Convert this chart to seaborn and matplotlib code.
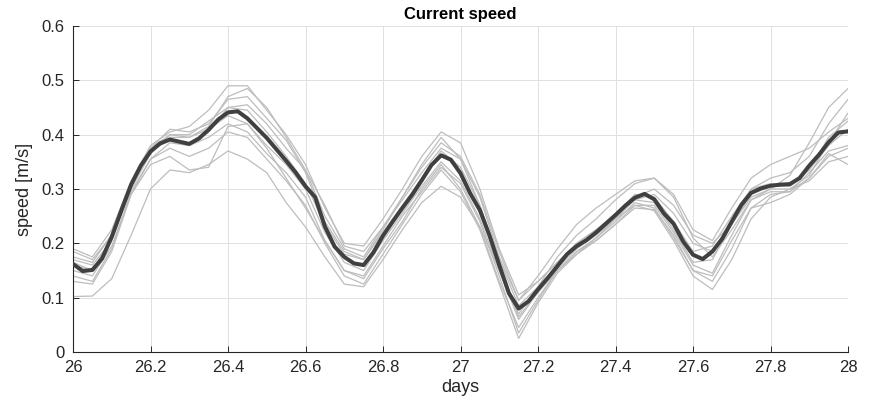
import numpy as np
import pandas as pd
import matplotlib
matplotlib.use("Agg")
import matplotlib.pyplot as plt
import seaborn as sns

# ---------------- data ----------------
days_fine = [26.000 + 0.025 * i for i in range(81)]
mean_speed = [0.162, 0.149, 0.151, 0.172, 0.212, 0.261, 0.308, 0.343, 0.369, 0.384,
              0.391, 0.387, 0.383, 0.393, 0.409, 0.428, 0.441, 0.443, 0.430, 0.412,
              0.394, 0.373, 0.352, 0.330, 0.305, 0.285, 0.231, 0.194, 0.175, 0.163,
              0.160, 0.183, 0.214, 0.240, 0.265, 0.289, 0.316, 0.344, 0.362, 0.354,
              0.329, 0.292, 0.261, 0.214, 0.160, 0.108, 0.080, 0.093, 0.115, 0.136,
              0.158, 0.180, 0.195, 0.206, 0.220, 0.236, 0.252, 0.269, 0.284, 0.291,
              0.281, 0.255, 0.236, 0.203, 0.179, 0.171, 0.185, 0.208, 0.240, 0.271,
              0.293, 0.301, 0.306, 0.308, 0.309, 0.320, 0.343, 0.363, 0.386, 0.404,
              0.406]

days = [26.00 + 0.05 * i for i in range(41)]
m1 = [0.102, 0.103, 0.135, 0.215, 0.300, 0.335, 0.330, 0.345, 0.370, 0.355, 0.330, 0.275, 0.230, 0.175, 0.125, 0.120, 0.170, 0.225, 0.275, 0.305, 0.285, 0.230, 0.130, 0.045, 0.100, 0.150, 0.185, 0.205, 0.235, 0.265, 0.262, 0.215, 0.150, 0.140, 0.205, 0.265, 0.275, 0.290, 0.320, 0.360, 0.375]
m2 = [0.190, 0.175, 0.225, 0.315, 0.380, 0.405, 0.415, 0.445, 0.490, 0.490, 0.445, 0.400, 0.345, 0.265, 0.200, 0.195, 0.245, 0.300, 0.360, 0.405, 0.385, 0.300, 0.190, 0.105, 0.130, 0.165, 0.200, 0.225, 0.250, 0.285, 0.300, 0.270, 0.215, 0.200, 0.235, 0.285, 0.300, 0.325, 0.385, 0.450, 0.485]
m3 = [0.185, 0.170, 0.215, 0.310, 0.375, 0.410, 0.405, 0.420, 0.465, 0.470, 0.430, 0.390, 0.330, 0.240, 0.185, 0.170, 0.225, 0.285, 0.345, 0.395, 0.355, 0.270, 0.160, 0.070, 0.120, 0.175, 0.215, 0.245, 0.280, 0.310, 0.320, 0.285, 0.210, 0.175, 0.225, 0.280, 0.300, 0.300, 0.325, 0.385, 0.440]
m4 = [0.170, 0.160, 0.205, 0.300, 0.365, 0.400, 0.400, 0.425, 0.450, 0.455, 0.420, 0.375, 0.335, 0.270, 0.195, 0.185, 0.230, 0.280, 0.330, 0.375, 0.355, 0.285, 0.175, 0.095, 0.140, 0.190, 0.235, 0.265, 0.290, 0.315, 0.320, 0.290, 0.225, 0.205, 0.265, 0.320, 0.345, 0.360, 0.375, 0.405, 0.430]
m5 = [0.150, 0.140, 0.195, 0.290, 0.345, 0.360, 0.335, 0.340, 0.415, 0.420, 0.375, 0.320, 0.265, 0.205, 0.150, 0.140, 0.195, 0.250, 0.295, 0.340, 0.310, 0.240, 0.140, 0.035, 0.095, 0.150, 0.180, 0.210, 0.240, 0.275, 0.265, 0.210, 0.150, 0.130, 0.190, 0.265, 0.290, 0.295, 0.330, 0.370, 0.380]
m6 = [0.165, 0.150, 0.210, 0.305, 0.375, 0.400, 0.395, 0.410, 0.435, 0.420, 0.380, 0.345, 0.300, 0.220, 0.165, 0.150, 0.205, 0.255, 0.305, 0.350, 0.315, 0.245, 0.150, 0.060, 0.110, 0.150, 0.185, 0.210, 0.245, 0.280, 0.275, 0.225, 0.165, 0.170, 0.235, 0.290, 0.305, 0.305, 0.335, 0.380, 0.410]
m7 = [0.140, 0.130, 0.190, 0.295, 0.355, 0.385, 0.380, 0.395, 0.420, 0.405, 0.365, 0.330, 0.285, 0.205, 0.150, 0.135, 0.190, 0.240, 0.300, 0.345, 0.300, 0.230, 0.150, 0.065, 0.110, 0.155, 0.190, 0.215, 0.245, 0.270, 0.260, 0.205, 0.140, 0.115, 0.170, 0.245, 0.285, 0.300, 0.315, 0.350, 0.360]
m8 = [0.175, 0.165, 0.215, 0.310, 0.370, 0.390, 0.380, 0.405, 0.450, 0.445, 0.405, 0.360, 0.310, 0.235, 0.180, 0.170, 0.220, 0.270, 0.320, 0.370, 0.340, 0.270, 0.170, 0.085, 0.120, 0.160, 0.195, 0.220, 0.255, 0.290, 0.285, 0.240, 0.185, 0.195, 0.250, 0.300, 0.310, 0.305, 0.335, 0.395, 0.425]
m9 = [0.130, 0.125, 0.185, 0.290, 0.355, 0.375, 0.360, 0.375, 0.405, 0.395, 0.355, 0.315, 0.270, 0.200, 0.140, 0.125, 0.180, 0.235, 0.290, 0.335, 0.295, 0.225, 0.125, 0.025, 0.090, 0.145, 0.180, 0.205, 0.235, 0.270, 0.270, 0.220, 0.160, 0.145, 0.215, 0.280, 0.295, 0.295, 0.320, 0.365, 0.345]
m10 = [0.160, 0.150, 0.210, 0.305, 0.370, 0.395, 0.395, 0.415, 0.470, 0.485, 0.450, 0.395, 0.335, 0.250, 0.190, 0.175, 0.230, 0.285, 0.340, 0.385, 0.360, 0.290, 0.185, 0.095, 0.130, 0.165, 0.200, 0.225, 0.255, 0.280, 0.290, 0.255, 0.200, 0.185, 0.240, 0.300, 0.320, 0.330, 0.360, 0.420, 0.465]
members = {"m1": m1, "m2": m2, "m3": m3, "m4": m4, "m5": m5,
           "m6": m6, "m7": m7, "m8": m8, "m9": m9, "m10": m10}

x_ticks = [26, 26.2, 26.4, 26.6, 26.8, 27, 27.2, 27.4, 27.6, 27.8, 28]
x_tick_labels = ["26", "26.2", "26.4", "26.6", "26.8", "27", "27.2", "27.4", "27.6", "27.8", "28"]
y_ticks = [0, 0.1, 0.2, 0.3, 0.4, 0.5, 0.6]
y_tick_labels = ["0", "0.1", "0.2", "0.3", "0.4", "0.5", "0.6"]

# ---------------- plot ----------------
sns.set_style("white")
plt.rcParams["font.family"] = ["Liberation Sans", "DejaVu Sans"]

fig = plt.figure(figsize=(8.69, 4.08), dpi=100)
ax = fig.add_axes([73 / 869, 1 - 352 / 408, 775 / 869, 326 / 408])

long = pd.DataFrame(
    [(d, v, k) for k, vals in members.items() for d, v in zip(days, vals)],
    columns=["days", "speed", "member"])
sns.lineplot(data=long, x="days", y="speed", units="member", estimator=None,
             color="#bdbdbd", linewidth=0.9, ax=ax, legend=False, zorder=2)

mean_df = pd.DataFrame({"days": days_fine, "speed": mean_speed})
sns.lineplot(data=mean_df, x="days", y="speed", color="#404040", linewidth=2.9,
             ax=ax, zorder=3)

ax.set_xlim(26, 28)
ax.set_ylim(0, 0.6)
ax.set_xticks(x_ticks)
ax.set_xticklabels(x_tick_labels)
ax.set_yticks(y_ticks)
ax.set_yticklabels(y_tick_labels)
ax.grid(True, color="#e0e0e0", linewidth=0.7)
ax.set_axisbelow(True)

for s in ["top", "right"]:
    ax.spines[s].set_visible(False)
for s in ["left", "bottom"]:
    ax.spines[s].set_color("#262626")
    ax.spines[s].set_linewidth(0.8)

ax.tick_params(direction="in", length=4, width=0.7, colors="#262626",
               labelsize=12, left=True, bottom=True, pad=6)
ax.set_xlabel("days", fontsize=13, color="#262626", labelpad=3)
ax.set_ylabel("speed [m/s]", fontsize=13, color="#262626", labelpad=6)
ax.set_title("Current speed", fontsize=12, fontweight="bold", color="black", pad=5)

fig.savefig("out.png", dpi=100)
